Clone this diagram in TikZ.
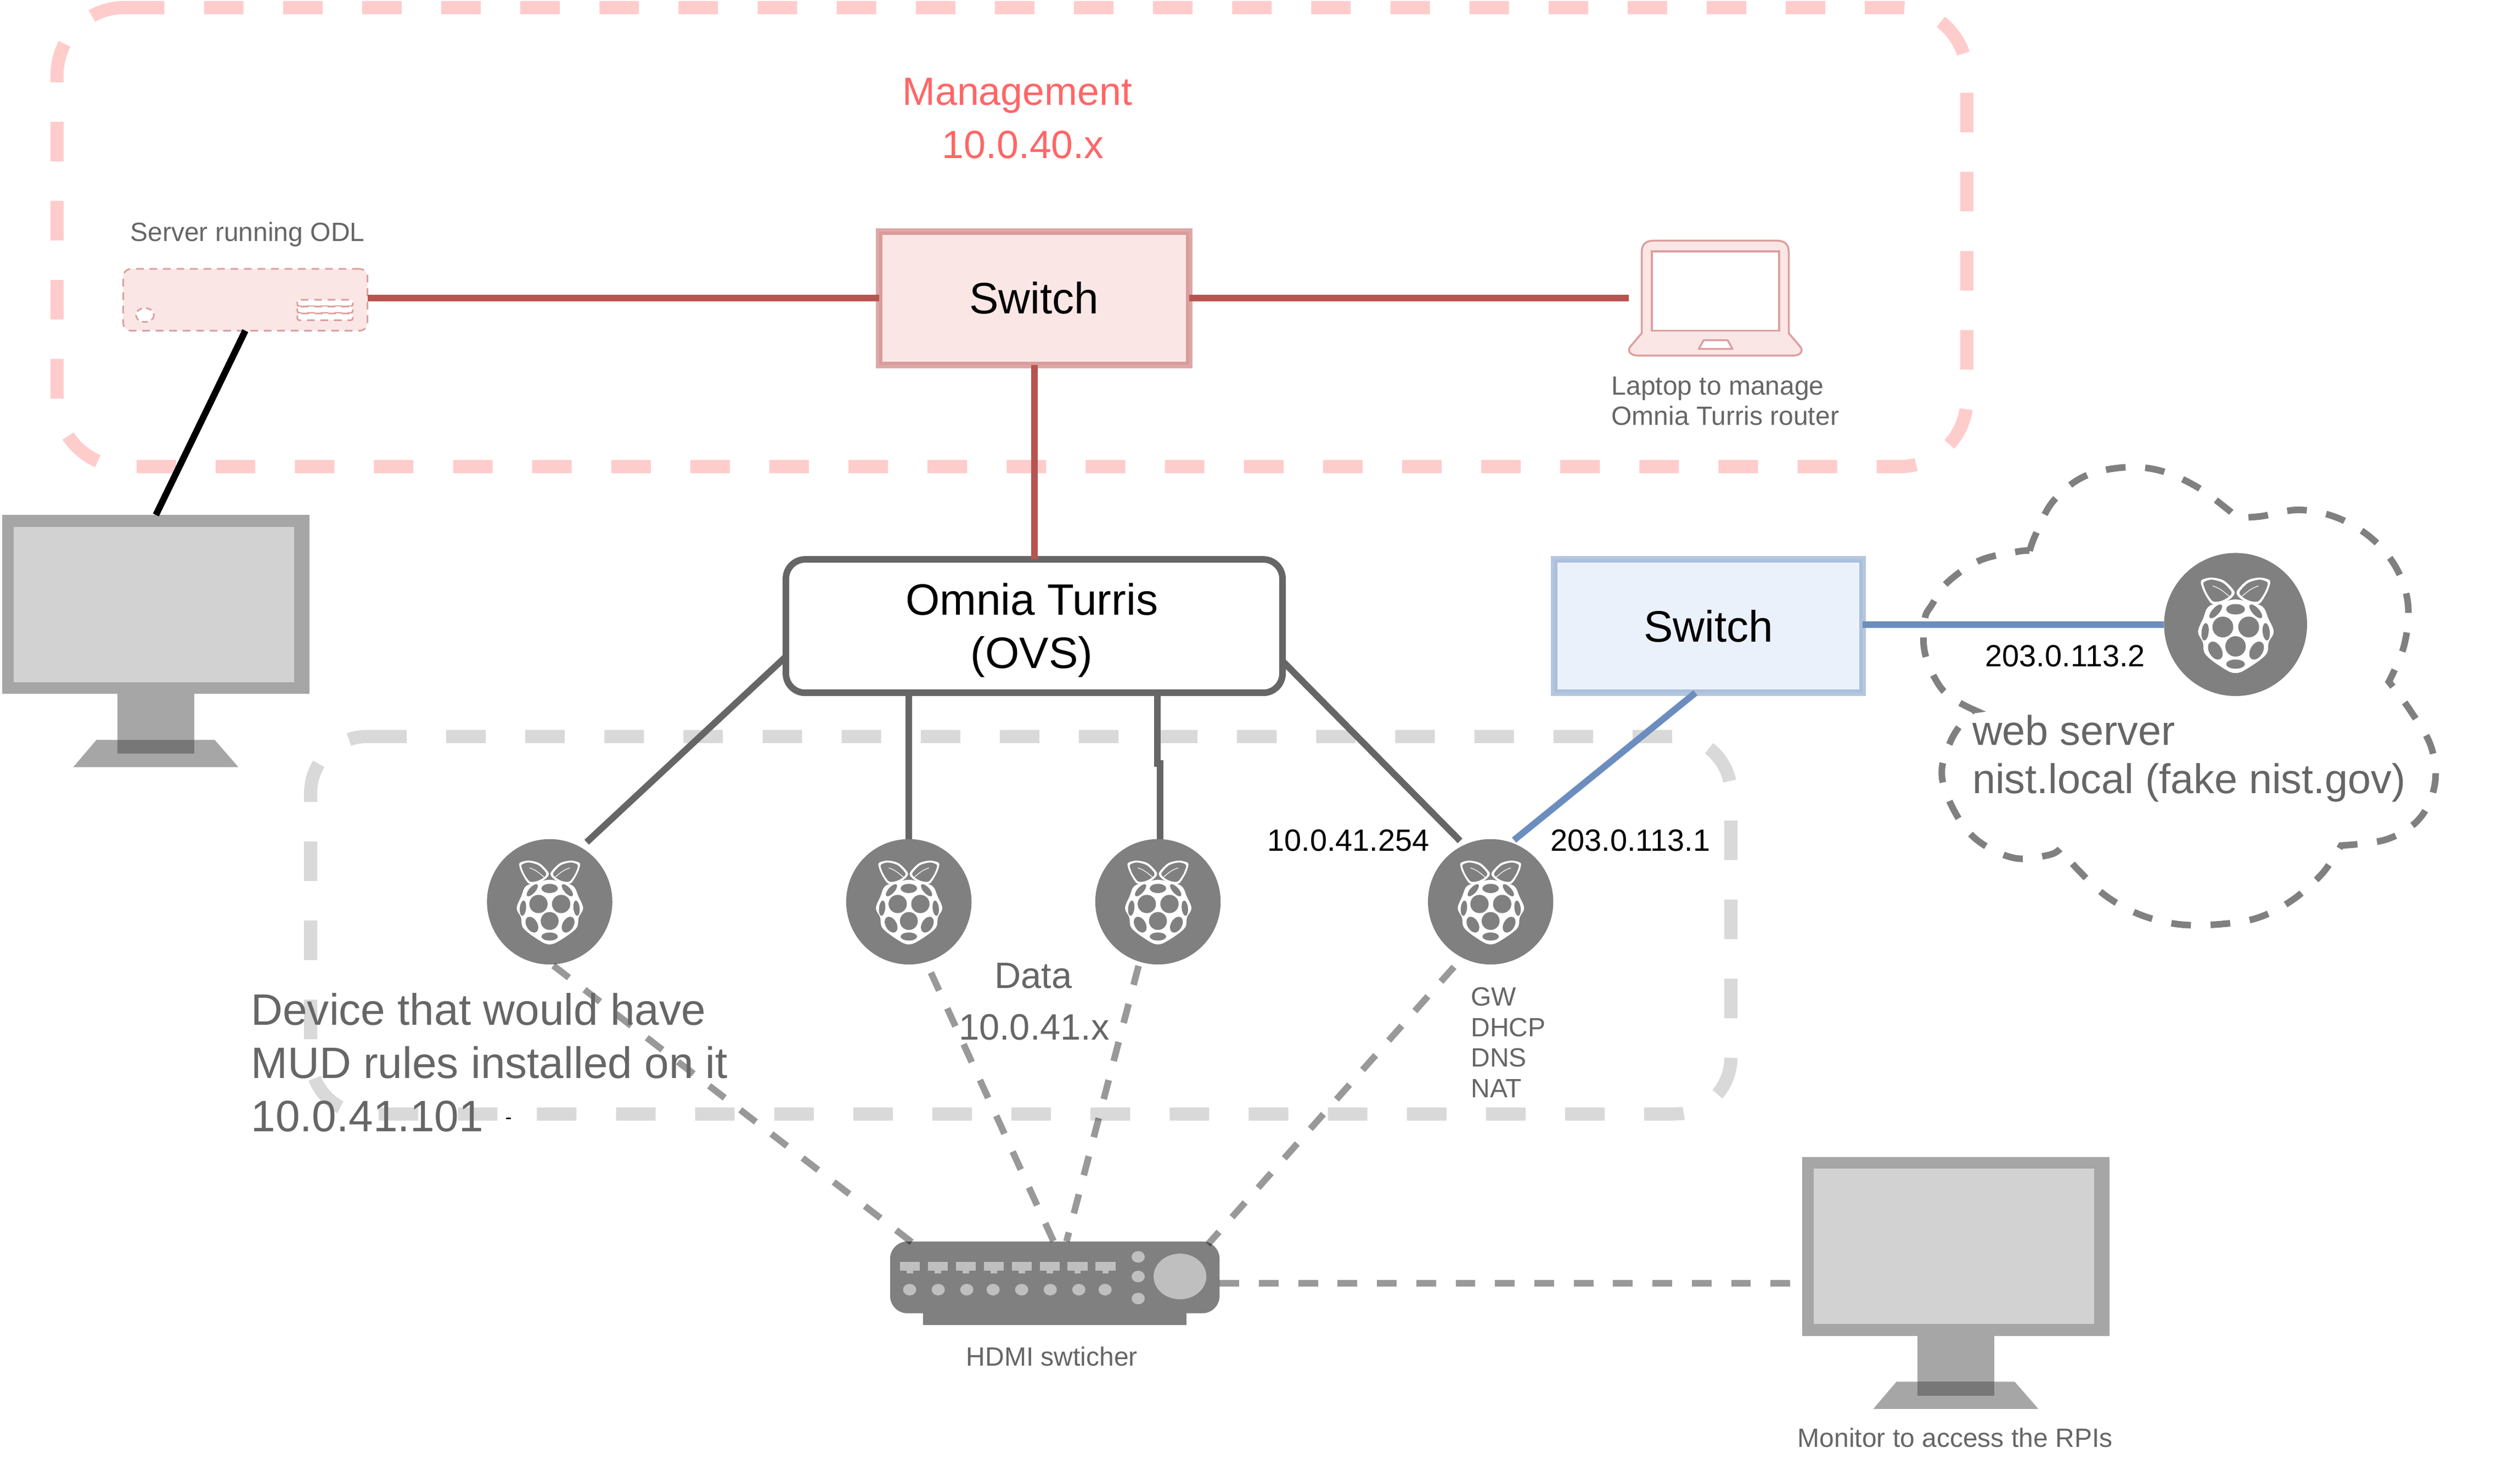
\documentclass[tikz,border=0pt]{standalone}
\usepackage{fontspec}
\setmainfont{Liberation Sans}
\usetikzlibrary{calc}
\definecolor{mgmtpink}{HTML}{FFCCCC}
\definecolor{datagray}{HTML}{D9D9D9}
\definecolor{redline}{HTML}{B85450}
\definecolor{redstroke}{HTML}{DD9F9F}
\definecolor{redfill}{HTML}{FBE6E6}
\definecolor{blueline}{HTML}{6C8EBF}
\definecolor{bluefill}{HTML}{EBF1FB}
\definecolor{txtgray}{HTML}{666666}
\definecolor{mgmttxt}{HTML}{FF6666}
\definecolor{pigray}{HTML}{808080}
\definecolor{monouter}{HTML}{A6A6A6}
\definecolor{monscreen}{HTML}{D2D2D2}
\definecolor{mondark}{HTML}{777777}
\definecolor{portgray}{HTML}{BFBFBF}
\def\ovu{0.029286cm}
\tikzset{
  zone/.style={line width=6.83pt,dash pattern=on 20.5pt off 20.5pt,rounded corners=#1},
  boxnode/.style={draw,line width=3.41pt,outer sep=0pt,inner sep=0pt,font=\fontsize{22.8}{27.5}\selectfont,align=center},
  picirc/.style={circle,fill=pigray,outer sep=0pt,inner sep=0pt,minimum size=78*\ovu},
  wire/.style={line width=3.41pt},
  graywire/.style={wire,draw=txtgray},
  redwire/.style={wire,draw=redline},
  bluewire/.style={wire,draw=blueline},
  hdmiwire/.style={wire,draw=black,opacity=.4,dash pattern=on 10.2pt off 10.2pt},
  smalltxt/.style={font=\fontsize{13.66}{15.8}\selectfont,text=txtgray,align=left,inner sep=0pt},
  iptxt/.style={font=\fontsize{15.9}{18}\selectfont,text=black,inner sep=0pt},
  bigtxt/.style={font=\fontsize{22.8}{27.5}\selectfont,text=txtgray,align=left,inner sep=0pt},
  datatxt/.style={font=\fontsize{19}{23}\selectfont,text=txtgray,inner sep=0pt},
  mgmtlabel/.style={font=\fontsize{20.4}{27}\selectfont,text=mgmttxt,inner sep=0pt},
  ventbar/.style={draw=redstroke,fill=white,line width=.85pt,dash pattern=on 4pt off 3pt,rounded corners=1pt},
}
\newcommand{\rpiicon}[2]{%
\begin{scope}[shift={(#1.center)},scale=#2/8.786,shift={(-455,-425)}]
 \fill[white] plot[smooth cycle,tension=.6] coordinates{(275,460)(298,510)(312,570)(400,637)(455,658)(510,637)(600,570)(614,510)(638,460)(612,395)(585,340)(520,318)(455,305)(390,318)(325,340)(300,395)};
 \fill[white] plot[smooth cycle,tension=.5] coordinates{(292,212)(340,200)(400,215)(450,268)(432,300)(390,322)(342,326)(310,282)(292,240)};
 \fill[white] plot[smooth cycle,tension=.5] coordinates{(618,212)(570,200)(510,215)(460,268)(478,300)(520,322)(568,326)(600,282)(618,240)};
 \fill[pigray] plot[smooth cycle,tension=.5] coordinates{(303,222)(340,210)(395,226)(436,270)(420,294)(385,312)(347,314)(318,276)(303,240)};
 \fill[pigray] plot[smooth cycle,tension=.5] coordinates{(607,222)(570,210)(515,226)(474,270)(490,294)(525,312)(563,314)(592,276)(607,240)};
 \draw[white,line width=.35pt] (345,240) .. controls (385,252) and (405,275) .. (425,290);
 \draw[white,line width=.35pt] (565,240) .. controls (525,252) and (505,275) .. (485,290);
 \fill[pigray] (455,352) ellipse (45 and 25);
 \fill[pigray] (455,615) ellipse (45 and 22);
 \fill[pigray] (394,437) circle (50);
 \fill[pigray] (518,437) circle (50);
 \fill[pigray] (455,530) circle (49);
 \fill[pigray,rotate around={48:(360,362)}] (360,362) ellipse (42 and 17);
 \fill[pigray,rotate around={-48:(552,362)}] (552,362) ellipse (42 and 17);
 \fill[pigray,rotate around={-6:(309,460)}] (309,460) ellipse (17 and 42);
 \fill[pigray,rotate around={6:(602,460)}] (602,460) ellipse (17 and 42);
 \fill[pigray,rotate around={30:(358,550)}] (358,550) ellipse (30 and 47);
 \fill[pigray,rotate around={-30:(556,550)}] (556,550) ellipse (30 and 47);
\end{scope}}
\newcommand{\monitorart}[3]{%
\node[rectangle,fill=monouter,outer sep=0pt,inner sep=0pt,minimum width=191*\ovu,minimum height=111.3*\ovu] (#1) at (97+#2,376+#3) {};
\begin{scope}[shift={(#2,#3)}]
 \fill[monscreen] (8.4,327.7) rectangle (183,424.3);
 \fill[monouter] (60,460.3) -- (133.6,460.3) -- (148.3,477.2) -- (45.6,477.2) -- cycle;
 \fill[monouter] (73,431.6) rectangle (121,460.3);
 \fill[mondark] (73,460.3) rectangle (121,468.9);
\end{scope}}
\begin{document}
\begin{tikzpicture}[x=0.029286cm,y=-0.029286cm]
\useasboundingbox (0,0) rectangle (1568,915.1);
% zones
\draw[zone=35pt,draw=mgmtpink] (77.7,4.7) -- (1223.8,4.7) -- (1223.8,290.3) -- (35.5,290.3) -- (35.5,4.7) -- (77.7,4.7);
\draw[zone=29.2pt,draw=datagray] (228.4,458.2) -- (1077,458.2) -- (1077,693) -- (193.3,693) -- (193.3,458.2) -- (228.4,458.2);
% hdmi
\node[rectangle,fill=pigray,rounded corners=9pt,outer sep=0pt,inner sep=0pt,minimum width=205*\ovu,minimum height=44.7*\ovu] (hdmi) at (656.35,794.65) {};
\fill[pigray] (574.4,812) rectangle (738.2,824.2);
\foreach \i in {0,...,7}{
  \fill[portgray] ({559.9+17.4*\i},784.9) rectangle ++(12.4,5.5);
  \fill[portgray] ({564.1+17.4*\i},790.4) rectangle ++(4,1.8);
}
\foreach \px in {211,313,415,509,611,713,815,909}{
  \fill[portgray] ({529.25+\px/5.74},802.3) ellipse (4.1 and 3.6);
}
\foreach \yy in {781.9,794.1,807.8}{\fill[portgray] (708.2,\yy) ellipse (4.1 and 3.6);}
\fill[portgray] (734.2,794.1) ellipse (16.4 and 14.2);
% monitors
\monitorart{mon1}{0}{0}
\monitorart{mon2}{1120}{399.3}
% server
\node[draw=redstroke,fill=redfill,line width=.85pt,dash pattern=on 4pt off 3pt,rounded corners=4pt,rectangle,outer sep=0pt,inner sep=0pt,minimum width=152*\ovu,minimum height=38.4*\ovu] (srv) at (152.65,186.5) {};
\draw[draw=redstroke,fill=white,line width=.85pt,dash pattern=on 3pt off 2pt] (90.2,196) ellipse (5.6 and 4.3);
\draw[ventbar] (185,186.5) rectangle (219.5,190.5);
\draw[ventbar] (185,190.7) rectangle (219.5,194.7);
\draw[ventbar] (185,195) rectangle (219.5,199.2);
% laptop
\node[rectangle,outer sep=0pt,inner sep=0pt,minimum width=108*\ovu,minimum height=71.5*\ovu] (lap) at (1067.5,185.5) {};
\draw[draw=redstroke,fill=redfill,line width=1pt] (1021.5,207.3) -- (1021.5,157) .. controls (1021.5,152) and (1024,149.7) .. (1029,149.7) -- (1105.5,149.7) .. controls (1110.5,149.7) and (1113,152) .. (1113,157) -- (1113,207.3) -- (1120,215.5) .. controls (1122.5,218.5) and (1120,221.2) .. (1116,221.2) -- (1019,221.2) .. controls (1015,221.2) and (1012,218.5) .. (1014.5,215.5) -- cycle;
\draw[draw=redstroke,fill=white,line width=1pt] (1027.8,156.4) rectangle (1107,205.7);
\draw[draw=redstroke,fill=white,line width=1pt,line join=round] (1060,211.7) -- (1075,211.7) -- (1078,217) -- (1057,217) -- cycle;
% main nodes
\node[boxnode,draw=redline,draw opacity=.5,fill=redfill,minimum width=193*\ovu,minimum height=83*\ovu] (sw) at (643.5,185.5) {Switch};
\node[boxnode,draw=txtgray,fill=white,rounded corners=10pt,minimum width=309*\ovu,minimum height=83*\ovu] (omnia) at (643.5,389.5) {\rule{0pt}{20.8pt}Omnia Turris\hspace*{2.5pt}\\(OVS)\hspace*{2.5pt}};
\node[boxnode,draw=blueline,draw opacity=.5,fill=bluefill,minimum width=192*\ovu,minimum height=83*\ovu] (bsw) at (1063,389.5) {Switch};
\node[picirc] (pi1) at (342,561) {};
\node[picirc] (pi2) at (565.5,561) {};
\node[picirc] (pi3) at (720.5,561) {};
\node[picirc] (gw) at (927.5,561) {};
\node[picirc,minimum size=89*\ovu] (web) at (1391,388.5) {};
\rpiicon{pi1}{1}\rpiicon{pi2}{1}\rpiicon{pi3}{1}\rpiicon{gw}{1}\rpiicon{web}{1.14}
% cloud
\draw[line width=3.41pt,draw=pigray,dash pattern=on 10.2pt off 10.2pt]
 plot[smooth,tension=.6] coordinates{(1262.9,342.7)(1266.4,333)(1277.1,312.3)(1296.2,296.7)(1321.1,290.8)(1343.7,292.7)(1366.3,302.5)(1386.5,317.2)(1391.3,322.1)}
 -- plot[smooth,tension=.6] coordinates{(1391.3,322.1)(1406.7,321.2)(1430.5,317.2)(1454.3,322.1)(1475.7,334.9)(1491.1,353.5)(1498.3,376)(1495.9,401.5)(1486.4,424.1)}
 -- plot[smooth,tension=.6] coordinates{(1486.4,424.1)(1499.5,441.7)(1512.6,464.3)(1515,487.8)(1505.4,509.3)(1485.2,522.1)(1456.7,526)}
 -- plot[smooth,tension=.6] coordinates{(1456.7,526)(1444.8,543.6)(1425.8,560.3)(1404.4,571.1)(1380.6,575)(1355.6,575)(1331.8,569.1)(1310.4,557.4)(1292.6,540.7)(1281.9,528)}
 -- plot[smooth,tension=.6] coordinates{(1281.9,528)(1274.8,531.9)(1253.4,533.8)(1230.8,523.1)(1216.5,505.4)(1208.2,481.9)(1214.1,460.3)(1224.8,444.7)(1228.4,441.7)}
 -- plot[smooth,tension=.6] coordinates{(1228.4,441.7)(1209.4,430)(1198,407.4)(1197.5,385.8)(1202.2,376)(1211.7,362.3)(1232,348.6)(1255.7,343.1)(1262.9,342.7)};
% connectors
\coordinate (kinktop) at (720.2,475);
\coordinate (kinkbot) at (722,475);
\draw[redwire] (sw.west -| srv.east) -- (sw.west);
\draw[redwire] (sw.east) -- (lap.west);
\draw[redwire] (sw.south) -- (omnia.north);
\draw[wire,draw=black] (srv.south) -- (mon1.north);
\draw[graywire,shorten >=4pt] (omnia.187.6) -- (pi1.60);
\draw[graywire] (omnia.208.3) -- (pi2.north -| omnia.208.3);
\draw[graywire] (omnia.south -| kinktop) -- (kinktop) -- (kinkbot) -- (pi3.north -| kinkbot);
\draw[graywire,shorten >=3pt] (omnia.352.4) -- (gw.115);
\draw[bluewire,shorten >=2pt] (bsw.259) -- (gw.71);
\draw[bluewire] (web.west -| bsw.east) -- (web.west);
\draw[hdmiwire,shorten <=1pt,shorten >=-2pt] (pi1.272.4) -- (hdmi.166.6);
\draw[hdmiwire,shorten <=6pt] (pi2.286) -- (hdmi.92);
\draw[hdmiwire,shorten <=2.2pt] (pi3.253.3) -- (hdmi.72.6);
\draw[hdmiwire,shorten <=6.4pt,shorten >=-2pt] (gw.243.3) -- (hdmi.13.4);
\draw[hdmiwire] (hdmi.358) -- (hdmi.358 -| mon2.west);
% labels
\node[mgmtlabel] (lmg) at (633,59.5) {Management};
\node[mgmtlabel] (lmgip) at (636.5,90) {10.0.40.x};
\node[smalltxt] (lsrv) at (154,146) {Server running ODL};
\node[smalltxt,anchor=west] (llap) at (1002.5,249.5) {Laptop to manage\\Omnia Turris router};
\node[iptxt] (lweb) at (1285,408) {203.0.113.2};
\node[iptxt] (lgwa) at (839,523) {10.0.41.254};
\node[iptxt] (lgwb) at (1014.5,523) {203.0.113.1};
\node[font=\fontsize{21.5}{25}\selectfont,text=txtgray,align=left,inner sep=0pt,anchor=west] (lwebt) at (1227,472) {web server\\nist.local (fake nist.gov)};
\node[bigtxt,anchor=west] (ldev) at (156,661) {Device that would have\\MUD rules installed on it\\10.0.41.101};
\node[font=\fontsize{10}{12}\selectfont,text=black,inner sep=0pt,anchor=base] (ldash) at (316.4,699.2) {-};
\node[datatxt] (ldata) at (643,607) {Data};
\node[datatxt] (ldataip) at (643.5,639) {10.0.41.x};
\node[smalltxt,anchor=west] (lgw) at (915,648.5) {GW\\DHCP\\DNS\\NAT};
\node[smalltxt] (lhdmi) at (654.5,844) {HDMI swticher};
\node[smalltxt] (lmon) at (1216.5,894.5) {Monitor to access the RPIs};
\end{tikzpicture}
\end{document}
